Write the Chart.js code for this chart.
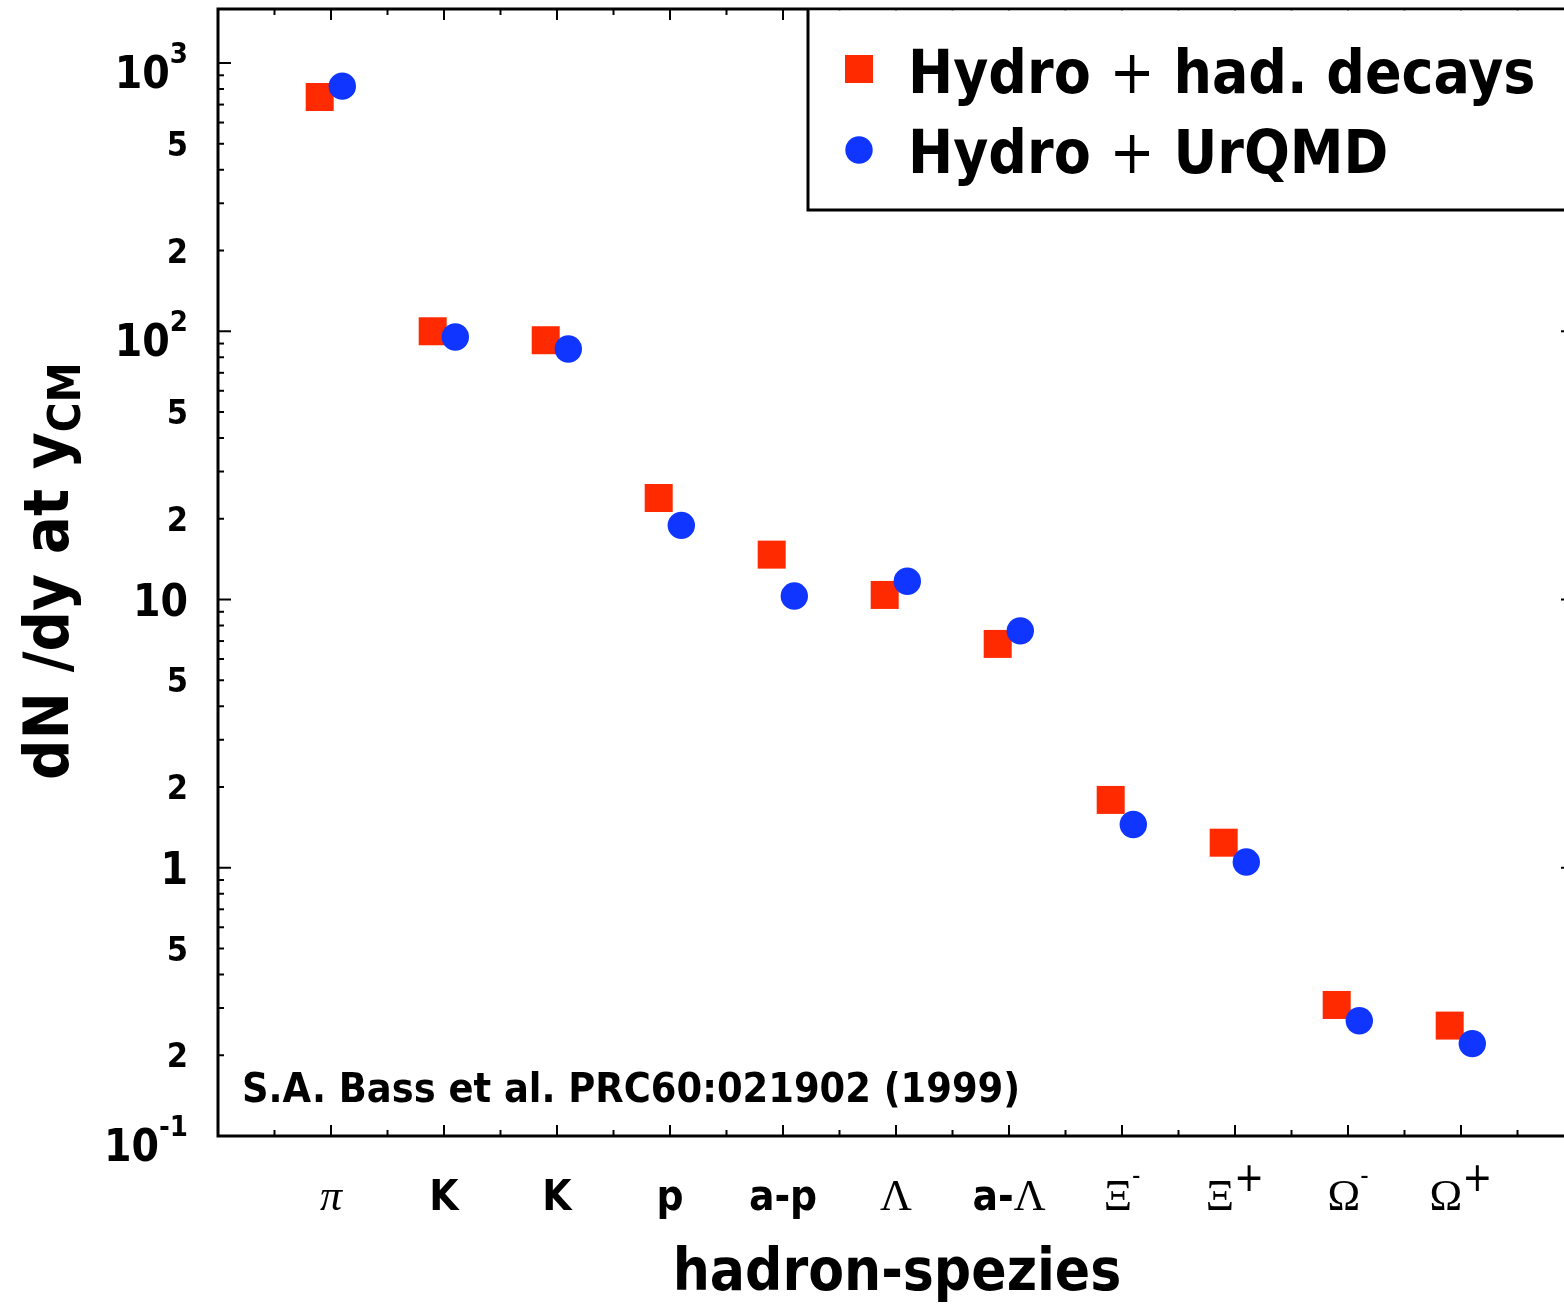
<!DOCTYPE html>
<html>
<head>
<meta charset="utf-8">
<title>Hadron yields</title>
<script src="https://cdn.jsdelivr.net/npm/chart.js@4.4.1/dist/chart.umd.min.js"></script>
<style>
    html, body { margin: 0; padding: 0; background: #fff; overflow: hidden; }
    #wrap { width: 1580px; height: 1305px; }
</style>
</head>
<body>
<div id="wrap"><canvas id="yieldChart" width="1580" height="1305"></canvas></div>
<script>
// Hadron species, one slot each on the x axis
const species = ['π', 'K', 'K', 'p', 'a-p', 'Λ', 'a-Λ', 'Ξ-', 'Ξ+', 'Ω-', 'Ω+'];

// dN/dy at y_CM
const hydroDecays = [747, 100, 92.6, 23.9, 14.7, 10.4, 6.83, 1.79, 1.24, 0.308, 0.258];
const hydroUrqmd = [820, 95.2, 85.9, 18.9, 10.3, 11.7, 7.64, 1.45, 1.05, 0.269, 0.221];

// Labelled y ticks ('^' marks an exponent)
const yTickValues = [0.1, 0.2, 0.5, 1, 2, 5, 10, 20, 50, 100, 200, 500, 1000];
const yTickLabels = ['10^-1', '2', '5', '1', '2', '5', '10', '2', '5', '10^2', '2', '5', '10^3'];

const seriesNames = ['Hydro + had. decays', 'Hydro + UrQMD'];
const citation = 'S.A. Bass et al. PRC60:021902 (1999)';

// the two models sit slightly left / right of each slot
const pairOffset = 0.1;

const SANS = '"DejaVu Sans Condensed", "DejaVu Sans", sans-serif';
const SERIF = '"Liberation Serif", "DejaVu Serif", serif';
const RED = '#ff2a00';
const BLUE = '#0f35ff';

const redStyle = { pointStyle: 'rect', radius: 19.8, borderWidth: 0, rotation: 0 };
const blueStyle = { pointStyle: 'circle', radius: 13.7, borderWidth: 0, rotation: 0 };

// draw a run of text pieces with their own fonts and baseline shifts
function drawRun(ctx, segs, x, y, align) {
    let total = 0;
    segs.forEach(s => {
        ctx.font = s.font;
        s.w = ctx.measureText(s.text).width;
        total += s.w;
    });
    let cx = x;
    if (align === 'center') cx = x - total / 2;
    if (align === 'right') cx = x - total;
    ctx.textAlign = 'left';
    ctx.textBaseline = 'alphabetic';
    segs.forEach(s => {
        ctx.font = s.font;
        ctx.fillText(s.text, cx, y + (s.dy || 0));
        cx += s.w;
    });
}

// split a species name into sans / greek serif / superscript pieces
function speciesSegments(name) {
    const chars = Array.from(name);
    const segs = [];
    chars.forEach((ch, i) => {
        const prevGreek = i > 0 && /[πΛΞΩ]/.test(chars[i - 1]);
        if (/[πΛΞΩ]/.test(ch)) {
            segs.push({ text: ch, font: (ch === 'π' ? 'italic ' : '') + '44px ' + SERIF });
        } else if (ch === '+' && prevGreek) {
            segs.push({ text: '+', font: '40px ' + SANS, dy: -19 });
        } else if (ch === '-' && prevGreek) {
            segs.push({ text: '-', font: '26px ' + SANS, dy: -26 });
        } else {
            const last = segs[segs.length - 1];
            if (last && last.sans) last.text += ch;
            else segs.push({ text: ch, font: 'bold 42px ' + SANS, sans: true });
        }
    });
    return segs;
}

function line(ctx, x1, y1, x2, y2) {
    ctx.beginPath();
    ctx.moveTo(x1, y1);
    ctx.lineTo(x2, y2);
    ctx.stroke();
}

// frame, inward ticks, labels, titles, legend and citation
const decorations = {
    id: 'decorations',
    afterDatasetsDraw(chart) {
        const ctx = chart.ctx;
        const xs = chart.scales.x;
        const ys = chart.scales.y;
        const { left, right, top, bottom } = chart.chartArea;
        ctx.save();
        ctx.fillStyle = '#000';
        ctx.strokeStyle = '#000';

        // y ticks, both sides
        ctx.lineWidth = 2;
        for (let e = -1; e <= 3; e++) {
            for (let k = 1; k <= 9; k++) {
                const v = k * Math.pow(10, e);
                if (v > ys.max) continue;
                const py = ys.getPixelForValue(v);
                const len = k === 1 ? 13 : 6;
                line(ctx, left, py, left + len, py);
                line(ctx, right, py, right - len, py);
            }
        }
        // x ticks, top and bottom
        for (let t = 0.5; t < xs.max; t += 0.5) {
            const px = xs.getPixelForValue(t);
            const len = Number.isInteger(t) ? 11 : 6;
            line(ctx, px, bottom, px, bottom - len);
            line(ctx, px, top, px, top + len);
        }

        // frame
        ctx.lineWidth = 3;
        ctx.strokeRect(left, top, right - left, bottom - top);

        // y tick labels
        yTickValues.forEach((v, i) => {
            const py = ys.getPixelForValue(v);
            const lab = yTickLabels[i];
            if (lab.includes('^')) {
                const [base, exp] = lab.split('^');
                drawRun(ctx, [
                    { text: base, font: 'bold 44px ' + SANS, dy: 25 },
                    { text: exp, font: 'bold 29px ' + SANS, dy: 0 }
                ], 188, py, 'right');
            } else if (lab === '10' || lab === '1') {
                drawRun(ctx, [{ text: lab, font: 'bold 44px ' + SANS, dy: 16 }], 188, py, 'right');
            } else {
                drawRun(ctx, [{ text: lab, font: 'bold 34px ' + SANS, dy: 12 }], 188, py, 'right');
            }
        });

        // x tick labels
        species.forEach((name, i) => {
            drawRun(ctx, speciesSegments(name), xs.getPixelForValue(i + 1), 1210, 'center');
        });

        // axis titles
        drawRun(ctx, [{ text: 'hadron-spezies', font: 'bold 58px ' + SANS }], 897, 1290, 'center');
        ctx.save();
        ctx.translate(68, 780);
        ctx.rotate(-Math.PI / 2);
        drawRun(ctx, [
            { text: 'dN /dy at y', font: 'bold 63px ' + SANS },
            { text: 'CM', font: 'bold 45px ' + SANS, dy: 12 }
        ], 0, 0, 'left');
        ctx.restore();

        // citation
        drawRun(ctx, [{ text: citation, font: 'bold 41px ' + SANS }], 242, 1102, 'left');

        // legend box
        ctx.fillStyle = '#fff';
        ctx.fillRect(808, top + 1.5, right - 808, 210 - top - 1.5);
        ctx.lineWidth = 3;
        ctx.beginPath();
        ctx.moveTo(808, top);
        ctx.lineTo(808, 210);
        ctx.lineTo(right + 10, 210);
        ctx.stroke();

        ctx.fillStyle = RED;
        Chart.helpers.drawPoint(ctx, redStyle, 859, 69);
        ctx.fillStyle = BLUE;
        Chart.helpers.drawPoint(ctx, blueStyle, 859, 150);

        ctx.fillStyle = '#000';
        [93, 173].forEach((by, i) => {
            const parts = seriesNames[i].split('+');
            drawRun(ctx, [
                { text: parts[0], font: 'bold 60px ' + SANS },
                { text: '+', font: '60px ' + SANS },
                { text: parts[1], font: 'bold 60px ' + SANS }
            ], 908, by, 'left');
        });
        ctx.restore();
    }
};

const ctx = document.getElementById('yieldChart');

new Chart(ctx, {
    type: 'scatter',
    data: {
        datasets: [{
            label: seriesNames[0],
            data: hydroDecays.map((v, i) => ({ x: i + 1 - pairOffset, y: v })),
            pointStyle: 'rect',
            pointRadius: redStyle.radius,
            pointBackgroundColor: RED,
            pointBorderWidth: 0,
            order: 2
        }, {
            label: seriesNames[1],
            data: hydroUrqmd.map((v, i) => ({ x: i + 1 + pairOffset, y: v })),
            pointStyle: 'circle',
            pointRadius: blueStyle.radius,
            pointBackgroundColor: BLUE,
            pointBorderWidth: 0,
            order: 1
        }]
    },
    options: {
        responsive: false,
        animation: false,
        events: [],
        devicePixelRatio: 1,
        layout: {
            autoPadding: false,
            padding: { left: 218, top: 9, right: 6, bottom: 169 }
        },
        plugins: {
            legend: { display: false },
            tooltip: { enabled: false }
        },
        scales: {
            x: { type: 'linear', min: 0, max: 12, display: false },
            y: { type: 'logarithmic', min: 0.1, max: 1590, display: false }
        }
    },
    plugins: [decorations]
});
</script>
</body>
</html>
